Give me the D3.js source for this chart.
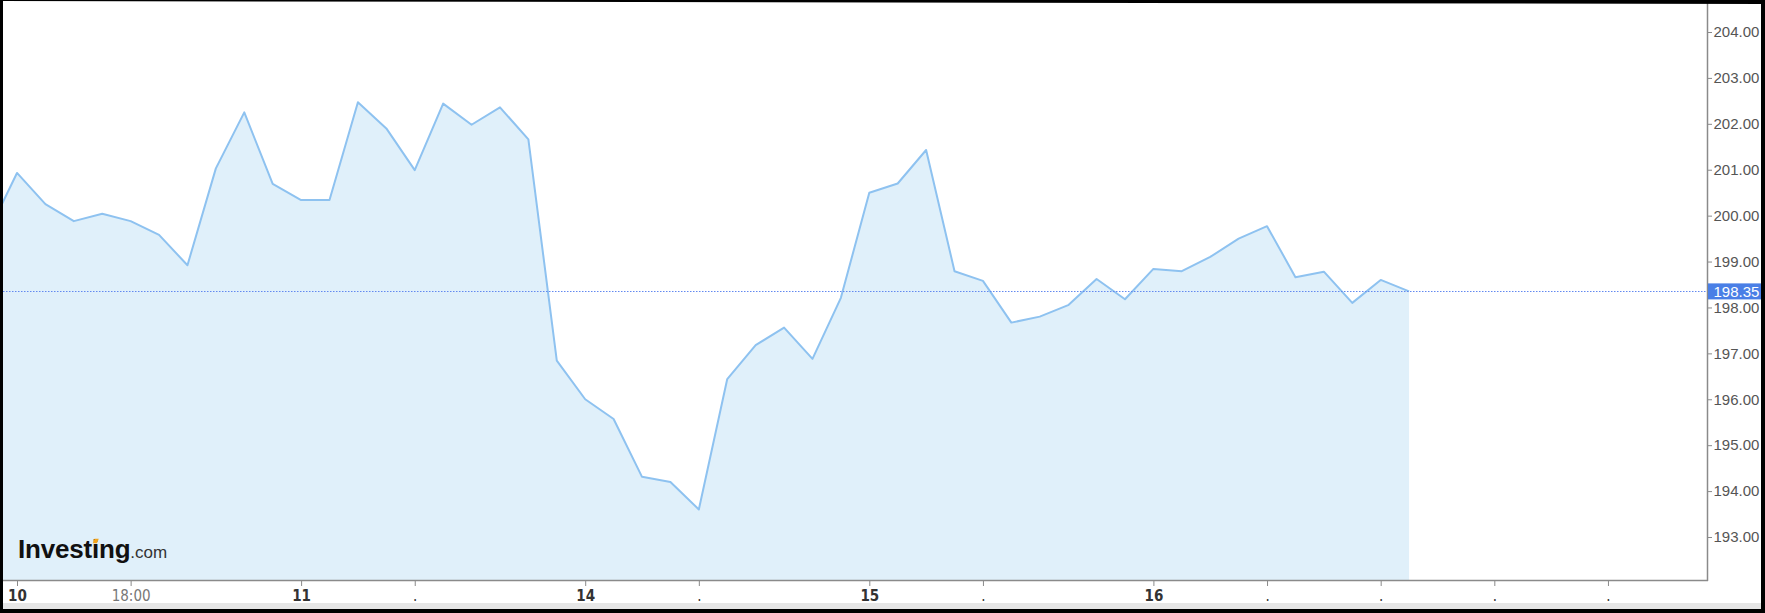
<!DOCTYPE html>
<html>
<head>
<meta charset="utf-8">
<script src="https://cdn.jsdelivr.net/npm/d3@7"></script>
<style>
  html, body { margin: 0; padding: 0; background: #fff; }
  svg { display: block; }
</style>
</head>
<body>
<svg id="chart" width="1765" height="613"></svg>
<script>
// ---- data (index = bar slot, price values) ----
const prices = [
  199.65, 200.93, 200.25, 199.88, 200.04, 199.88, 199.58, 198.92, 201.03, 202.25,
  200.69, 200.34, 200.34, 202.47, 201.90, 200.99, 202.44, 201.98, 202.36, 201.66,
  196.84, 196.00, 195.57, 194.31, 194.20, 193.60, 196.44, 197.18, 197.56, 196.88,
  198.21, 200.50, 200.70, 201.43, 198.79, 198.58, 197.67, 197.80, 198.05, 198.62,
  198.18, 198.84, 198.79, 199.10, 199.50, 199.77, 198.66, 198.78, 198.10, 198.60,
  198.35
];
const lastPrice = 198.35;
const xTickIndex  = [1, 5, 11, 15, 21, 25, 31, 35, 41, 45, 49, 53, 57];
const xTickLabels = ["10", "18:00", "11", ".", "14", ".", "15", ".", "16", ".", ".", ".", "."];
const yTicks = [193, 194, 195, 196, 197, 198, 199, 200, 201, 202, 203, 204];

// ---- layout ----
const W = 1765, H = 613;
const plot = { left: 3, right: 1707, top: 0, bottom: 580 };

const svg = d3.select("#chart");

const x = d3.scaleLinear().domain([1, 57]).range([17, 17 + 56 * 28.41]);
const y = d3.scaleLinear().domain([193, 204]).range([537, 32]);

svg.append("rect").attr("width", W).attr("height", H).attr("fill", "#fff");

// clip
svg.append("clipPath").attr("id", "plotclip")
  .append("rect")
  .attr("x", plot.left).attr("y", plot.top)
  .attr("width", plot.right - plot.left).attr("height", plot.bottom - plot.top);

const g = svg.append("g").attr("clip-path", "url(#plotclip)");

const area = d3.area()
  .x((d, i) => x(i))
  .y0(plot.bottom)
  .y1(d => y(d));
const line = d3.line()
  .x((d, i) => x(i))
  .y(d => y(d));

g.append("path").datum(prices).attr("d", area).attr("fill", "#e0f0fa");
g.append("path").datum(prices).attr("d", line)
  .attr("fill", "none").attr("stroke", "#8ec2f0").attr("stroke-width", 2)
  .attr("stroke-linejoin", "round");

// last price dotted line
svg.append("line")
  .attr("x1", plot.left).attr("x2", plot.right)
  .attr("y1", Math.round(y(lastPrice)) + 0.5).attr("y2", Math.round(y(lastPrice)) + 0.5)
  .attr("stroke", "#6289f0").attr("stroke-width", 1).attr("stroke-dasharray", "1.5,1.5");

// axes lines
svg.append("line").attr("x1", plot.right + 0.5).attr("x2", plot.right + 0.5)
  .attr("y1", 0).attr("y2", plot.bottom + 1).attr("stroke", "#8a8a8a").attr("stroke-width", 1.5);
svg.append("line").attr("x1", plot.left).attr("x2", plot.right + 1)
  .attr("y1", plot.bottom + 0.5).attr("y2", plot.bottom + 0.5).attr("stroke", "#8a8a8a").attr("stroke-width", 1.5);

// y axis
const yAxis = d3.axisRight(y).tickValues(yTicks).tickFormat(d3.format(".2f")).tickSize(4).tickPadding(1.5);
const ya = svg.append("g").attr("transform", `translate(${plot.right + 1},0)`).call(yAxis);
ya.select(".domain").remove();
ya.selectAll(".tick line").attr("stroke", "#8a8a8a");
ya.selectAll(".tick text").attr("fill", "#555").attr("font-size", 15)
  .attr("font-family", "'Liberation Sans', Arial, sans-serif");

// last price tag
const ty = y(lastPrice);
svg.append("rect").attr("x", plot.right + 1).attr("y", ty - 8).attr("width", 54).attr("height", 16)
  .attr("fill", "#4a7fe6");
svg.append("text").attr("x", plot.right + 6.5).attr("y", ty).attr("dy", "0.35em")
  .attr("fill", "#fff").attr("font-size", 15)
  .attr("font-family", "'Liberation Sans', Arial, sans-serif")
  .text(d3.format(".2f")(lastPrice));

// x axis
const xAxis = d3.axisBottom(x).tickValues(xTickIndex)
  .tickFormat((d, i) => xTickLabels[i]).tickSize(5).tickPadding(4);
const xa = svg.append("g").attr("transform", `translate(0,${plot.bottom + 1})`).call(xAxis);
xa.select(".domain").remove();
xa.selectAll(".tick line").attr("stroke", "#8a8a8a");
xa.selectAll(".tick text")
  .attr("font-family", "'Liberation Sans Narrow', 'DejaVu Sans Condensed', Arial, sans-serif")
  .attr("font-size", 15)
  .attr("fill", (d, i) => xTickLabels[i] === "18:00" ? "#777" : "#333")
  .attr("font-weight", (d, i) => /^\d+$/.test(xTickLabels[i]) ? "bold" : "normal");

// logo
const fsLogo = 26, baseLogo = 558;
const logo = svg.append("text").attr("x", 18).attr("y", baseLogo)
  .attr("font-family", "'Liberation Sans', Arial, sans-serif");
logo.append("tspan").attr("font-weight", "bold").attr("font-size", fsLogo).attr("fill", "#111")
  .attr("letter-spacing", -0.2).text("Investing");
logo.append("tspan").attr("font-size", 17).attr("fill", "#333").text(".com");
try {
  const ext = logo.node().getExtentOfChar(6);
  const cx = ext.x + ext.width / 2;
  const top = baseLogo - 0.74 * fsLogo, h = 0.17 * fsLogo, w = 0.16 * fsLogo;
  svg.append("path")
    .attr("d", `M${cx - w / 2 + 1.2},${top} L${cx + w / 2 + 1.2},${top} L${cx + w / 2 - 0.6},${top + h} L${cx - w / 2 - 0.6},${top + h} Z`)
    .attr("fill", "#f4a51c");
} catch (e) {}

// screenshot frame
svg.append("rect").attr("x", 3).attr("y", 603).attr("width", 1758).attr("height", 6).attr("fill", "#e6e6e6");
svg.append("rect").attr("x", 0).attr("y", 0).attr("width", 3).attr("height", H).attr("fill", "#000");
svg.append("rect").attr("x", 1761).attr("y", 0).attr("width", 4).attr("height", H).attr("fill", "#000");
svg.append("rect").attr("x", 0).attr("y", 609).attr("width", W).attr("height", 4).attr("fill", "#000");
svg.append("path").attr("d", `M0,0 L${W},0 L${W},4 L0,1 Z`).attr("fill", "#000");
</script>
</body>
</html>
